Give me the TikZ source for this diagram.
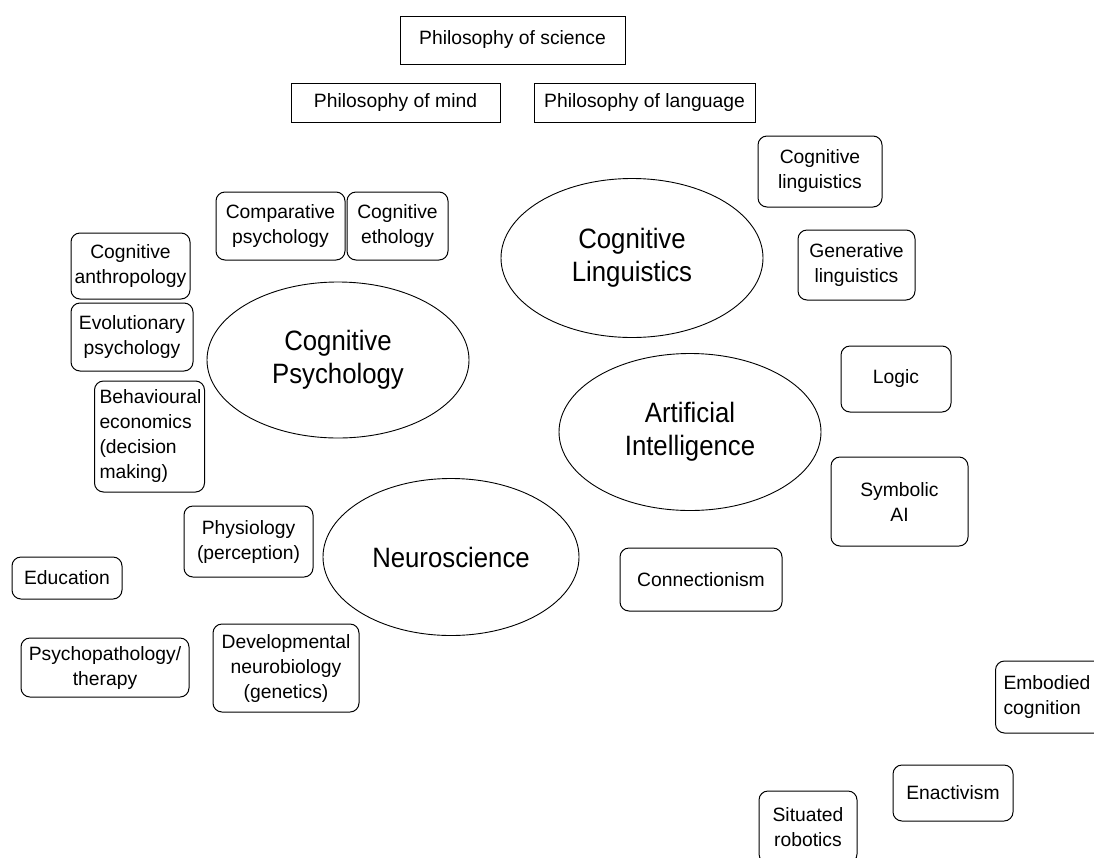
\documentclass[tikz,border=0pt]{standalone}
\usepackage{fontspec}
\setmainfont{Liberation Sans}
\newfontfamily\ellfont{Liberation Sans}[FakeStretch=0.92]
\usetikzlibrary{shapes.geometric}
\tikzset{
  boxfont/.style={font=\fontsize{19.3}{25}\selectfont},
  pbox/.style={draw, line width=1pt, rectangle, inner sep=0pt, boxfont, align=center},
  rbox/.style={draw, line width=1pt, rectangle, rounded corners=9pt, inner sep=0pt, boxfont, align=center},
  ell/.style={draw, line width=0.9pt, ellipse, inner sep=0pt, align=center,
              font=\ellfont\fontsize{28}{33}\selectfont}
}
\begin{document}
\begin{tikzpicture}[x=1pt,y=-1pt]
\useasboundingbox (0,0) rectangle (1094,857);
\clip (0,0) rectangle (1094,857);
% philosophy boxes
\node[pbox, minimum width=225pt, minimum height=48pt] (psci) at (512.5,40) {Philosophy of science};
\node[pbox, minimum width=209pt, minimum height=39pt] (pmind) at (395.5,102.5) {Philosophy of mind};
\node[pbox, minimum width=221pt, minimum height=39pt] (plang) at (644.5,102.5) {Philosophy of language};
% ellipses
\node[ell, minimum width=262pt, minimum height=156pt] (cpsy) at (338,360) {Cognitive\\Psychology};
\node[ell, minimum width=262pt, minimum height=159pt] (clin) at (632,258) {Cognitive\\Linguistics};
\node[ell, minimum width=262pt, minimum height=157pt] (ai) at (690,432) {Artificial\\Intelligence};
\node[ell, minimum width=256pt, minimum height=157pt] (neuro) at (451,557) {Neuroscience};
% rounded boxes
\node[rbox, minimum width=129pt, minimum height=68pt] (comp) at (280.5,226) {Comparative\\psychology};
\node[rbox, minimum width=101pt, minimum height=68pt] (etho) at (397.5,226) {Cognitive\\ethology};
\node[rbox, minimum width=119pt, minimum height=66pt] (anth) at (130.5,266) {Cognitive\\anthropology};
\node[rbox, minimum width=122pt, minimum height=68pt] (evol) at (132,337) {Evolutionary\\psychology};
\node[rbox, anchor=west, text width=100pt, inner xsep=5pt, align=left, minimum height=111pt] (behav) at (94,436.5) {Behavioural\\economics\\(decision\\making)};
\node[rbox, minimum width=124pt, minimum height=71pt] (cling) at (820,171.5) {Cognitive\\linguistics};
\node[rbox, minimum width=117pt, minimum height=70pt] (gen) at (856.5,265) {Generative\\linguistics};
\node[rbox, minimum width=110pt, minimum height=66pt] (logic) at (896,379) {Logic};
\node[rbox, minimum width=137pt, minimum height=89pt] (symb) at (899.5,501.5) {Symbolic\\AI};
\node[rbox, minimum width=162pt, minimum height=63pt] (conn) at (701,579.5) {Connectionism};
\node[rbox, minimum width=129pt, minimum height=71pt] (phys) at (248.5,541.5) {Physiology\\(perception)};
\node[rbox, minimum width=110pt, minimum height=42pt] (edu) at (67,578) {Education};
\node[rbox, minimum width=168pt, minimum height=59pt] (psych) at (105,667.5) {Psychopathology/\\therapy};
\node[rbox, minimum width=146pt, minimum height=88pt] (dev) at (286,668) {Developmental\\neurobiology\\(genetics)};
\node[rbox, anchor=west, text width=104pt, inner xsep=8pt, align=left, minimum height=72pt] (emb) at (995,697) {Embodied\\cognition};
\node[rbox, minimum width=120pt, minimum height=56pt] (enact) at (953,793) {Enactivism};
\node[rbox, minimum width=98pt, minimum height=72pt] (sit) at (808,827) {Situated\\robotics};
\end{tikzpicture}
\end{document}
